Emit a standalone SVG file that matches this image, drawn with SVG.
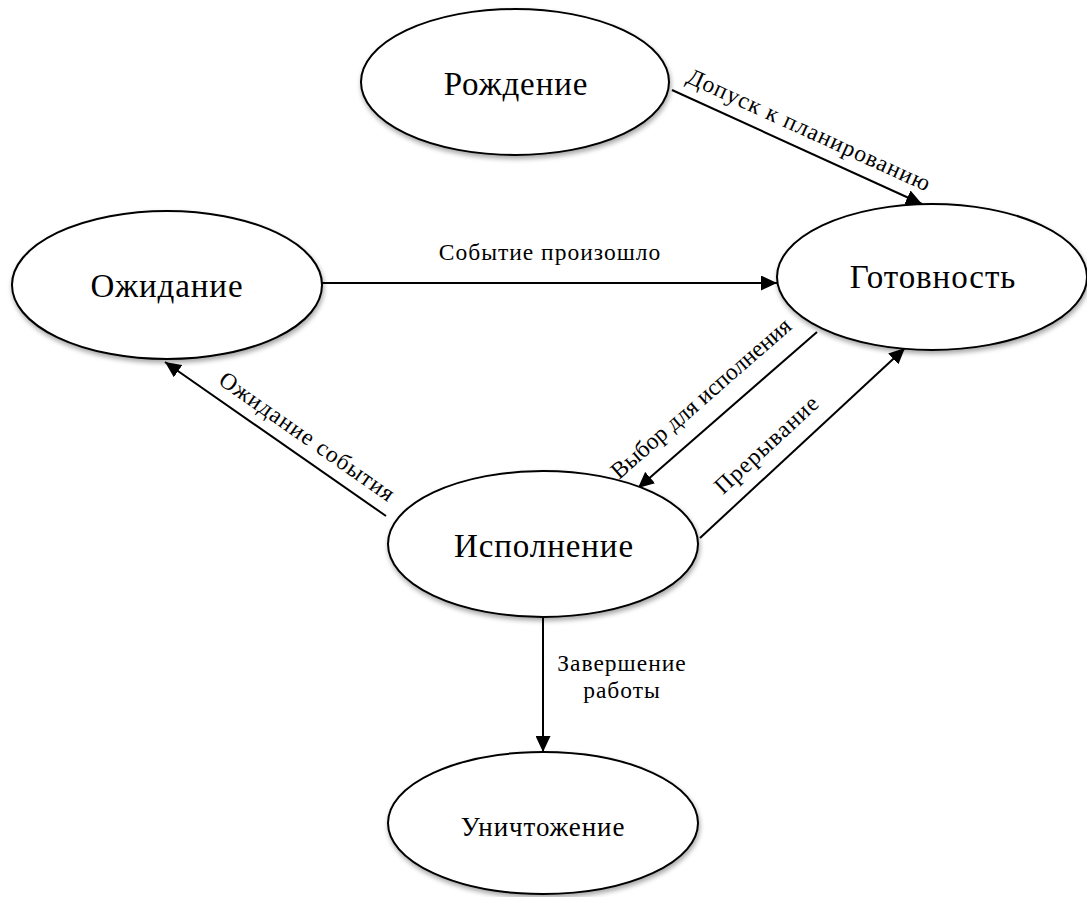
<svg xmlns="http://www.w3.org/2000/svg" width="1087" height="897" viewBox="0 0 1087 897">
  <style>
    .state ellipse { fill: #ffffff; stroke: #000000; stroke-width: 2; filter: url(#soft); }
    .state text { font-family: "Liberation Serif", "DejaVu Serif", serif; font-size: 33px; letter-spacing: 0.9px; fill: #000; text-anchor: middle; }
    .edge { stroke: #000; stroke-width: 2; fill: none; marker-end: url(#head); }
    .lbl { font-family: "Liberation Serif", "DejaVu Serif", serif; font-size: 23.5px; letter-spacing: 1px; fill: #000; text-anchor: middle; }
  </style>
  <defs>
    <filter id="soft" x="-10%" y="-10%" width="125%" height="130%">
      <feGaussianBlur in="SourceAlpha" stdDeviation="2.5"/>
      <feOffset dx="1" dy="3" result="b"/>
      <feComponentTransfer><feFuncA type="linear" slope="0.35"/></feComponentTransfer>
      <feMerge><feMergeNode/><feMergeNode in="SourceGraphic"/></feMerge>
    </filter>
    <marker id="head" markerUnits="userSpaceOnUse" markerWidth="17" markerHeight="15" refX="16" refY="7.5" orient="auto">
      <path d="M0,0 L16,7.5 L0,15 z" fill="#000"/>
    </marker>
  </defs>
  <rect width="1087" height="897" fill="#ffffff"/>

  <!-- transitions -->
  <g id="connectors">
    <line class="edge" x1="672" y1="90" x2="922" y2="204"/>
    <line class="edge" x1="322" y1="283" x2="777" y2="283"/>
    <line class="edge" x1="386" y1="516" x2="165" y2="362"/>
    <line class="edge" x1="817" y1="332" x2="638" y2="488"/>
    <line class="edge" x1="700" y1="538" x2="905" y2="348"/>
    <line class="edge" x1="543" y1="617" x2="543" y2="752"/>

    <text class="lbl" transform="translate(806,137) rotate(24.5)">Допуск к планированию</text>
    <text class="lbl" x="550" y="260">Событие произошло</text>
    <text class="lbl" transform="translate(303,443) rotate(34.9)">Ожидание события</text>
    <text class="lbl" transform="translate(706,404) rotate(-41.1)" style="letter-spacing:0">Выбор для исполнения</text>
    <text class="lbl" transform="translate(772,450) rotate(-42.8)">Прерывание</text>
    <text class="lbl" x="622" y="671">Завершение</text>
    <text class="lbl" x="622" y="698">работы</text>
  </g>

  <!-- process states -->
  <g id="birth" class="state">
    <ellipse cx="515" cy="82" rx="154" ry="73"/>
    <text x="516" y="95">Рождение</text>
  </g>
  <g id="waiting" class="state">
    <ellipse cx="167" cy="285" rx="155" ry="74"/>
    <text x="167" y="297">Ожидание</text>
  </g>
  <g id="ready" class="state">
    <ellipse cx="932" cy="277" rx="155" ry="73"/>
    <text x="933" y="288">Готовность</text>
  </g>
  <g id="running" class="state">
    <ellipse cx="543" cy="544" rx="155" ry="73"/>
    <text x="544" y="557">Исполнение</text>
  </g>
  <g id="terminated" class="state">
    <ellipse cx="543" cy="823" rx="155" ry="71"/>
    <text x="543" y="836" style="font-size:27px">Уничтожение</text>
  </g>
</svg>
